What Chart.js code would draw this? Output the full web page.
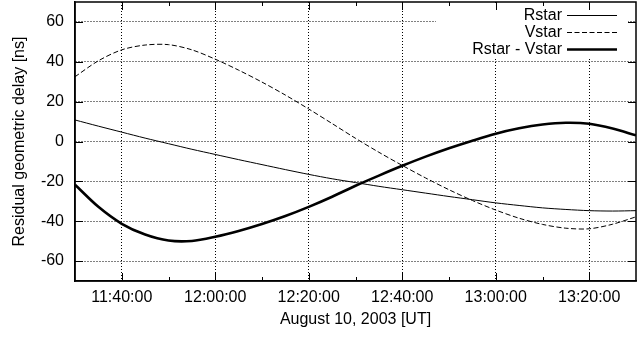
<!DOCTYPE html>
<html>
<head>
<meta charset="utf-8">
<script src="https://cdn.jsdelivr.net/npm/chart.js@4.4.1/dist/chart.umd.min.js"></script>
<style>
  html, body { margin: 0; padding: 0; background: #fff; }
  #wrap { width: 643px; height: 338px; }
</style>
</head>
<body>
<div id="wrap"><canvas id="delayChart" width="643" height="338"></canvas></div>
<script>
// minutes after midnight, 11:30 .. 13:30 UT
const minutes = [690, 695, 700, 705, 710, 715, 720, 725, 730, 735, 740, 745, 750,
                 755, 760, 765, 770, 775, 780, 785, 790, 795, 800, 805, 810];

const rstar = [10.8, 7.7, 4.7, 1.7, -1.1, -3.9, -6.5, -9.1, -11.6, -14.1, -16.5, -18.7, -20.6,
               -22.5, -24.2, -25.9, -27.6, -29.2, -30.8, -32.1, -33.3, -34.1, -34.7, -34.9, -34.7];

const vstar = [32.5, 40.5, 46.0, 48.4, 48.6, 46.0, 41.3, 35.8, 29.8, 23.3, 16.3, 9.0, 1.6,
               -5.4, -12.0, -18.3, -24.2, -29.6, -34.4, -38.5, -41.6, -43.5, -43.8, -41.5, -37.8];

const rstarMinusVstar = [-21.7, -32.8, -41.3, -46.7, -49.7, -49.9, -47.8, -44.9, -41.4, -37.4, -32.8, -27.7, -22.2,
                         -17.1, -12.2, -7.6, -3.4, 0.4, 3.9, 6.6, 8.5, 9.4, 8.9, 6.5, 3.1];

const seriesNames = ['Rstar', 'Vstar', 'Rstar - Vstar'];

const FONT = "'Liberation Sans', Arial, Helvetica, sans-serif";
Chart.defaults.font.family = FONT;
Chart.defaults.font.size = 16;
Chart.defaults.color = '#000';

function toPoints(values) {
    return values.map((v, i) => ({ x: minutes[i], y: v }));
}

function hhmmss(v) {
    const h = Math.floor(v / 60);
    const m = v % 60;
    return h + ':' + String(m).padStart(2, '0') + ':00';
}

const gridColor = (ctx) => (ctx.tick && ctx.tick.value % 20 === 0) ? '#000' : 'rgba(0,0,0,0)';

// no extra room for edge labels, the frame sits flush with the layout padding
function noEdgePadding(scale) {
    scale.paddingTop = 0;
    scale.paddingBottom = 0;
    scale.paddingLeft = 0;
    scale.paddingRight = 0;
}

// gnuplot-like frame: full border, inward tick marks on all four sides, opaque key
const framePlugin = {
    id: 'frame',
    beforeDatasetsDraw(chart) {
        const { ctx, chartArea } = chart;
        ctx.save();
        ctx.fillStyle = '#fff';
        ctx.fillRect(436, chartArea.top + 1, 628 - 436, 57 - chartArea.top);
        ctx.restore();
    },
    afterDatasetsDraw(chart) {
        const { ctx, chartArea, scales } = chart;
        const { left, right, top, bottom } = chartArea;
        ctx.save();
        ctx.strokeStyle = '#000';
        ctx.lineWidth = 1.5;
        ctx.strokeRect(left, top, right - left, bottom - top);

        ctx.lineWidth = 1;
        ctx.beginPath();
        scales.x.ticks.forEach(t => {
            if (t.value <= scales.x.min || t.value >= scales.x.max) return;
            const px = Math.round(scales.x.getPixelForValue(t.value)) + 0.5;
            const len = t.value % 20 === 0 ? 8 : 4;
            ctx.moveTo(px, bottom); ctx.lineTo(px, bottom - len);
            ctx.moveTo(px, top); ctx.lineTo(px, top + len);
        });
        scales.y.ticks.forEach(t => {
            if (t.value % 20 !== 0) return;
            const py = Math.round(scales.y.getPixelForValue(t.value)) + 0.5;
            ctx.moveTo(left, py); ctx.lineTo(left + 8, py);
            ctx.moveTo(right, py); ctx.lineTo(right - 8, py);
        });
        ctx.stroke();

        // key
        ctx.font = '16px ' + FONT;
        ctx.textAlign = 'right';
        ctx.textBaseline = 'middle';
        ctx.fillStyle = '#000';
        const rowsY = [15, 32, 49];
        chart.data.datasets.forEach((ds, i) => {
            const y = rowsY[i];
            ctx.fillText(ds.label, 562, y + 1);
            ctx.beginPath();
            ctx.lineWidth = ds.borderWidth;
            ctx.setLineDash(ds.borderDash || []);
            ctx.moveTo(567, y + 0.5);
            ctx.lineTo(617, y + 0.5);
            ctx.stroke();
        });
        ctx.restore();
    }
};

new Chart(document.getElementById('delayChart'), {
    type: 'line',
    data: {
        datasets: [
            {
                label: seriesNames[0],
                data: toPoints(rstar),
                borderColor: '#000',
                borderWidth: 1,
                pointRadius: 0,
                tension: 0.3
            },
            {
                label: seriesNames[1],
                data: toPoints(vstar),
                borderColor: '#000',
                borderWidth: 1,
                borderDash: [5, 2.5],
                pointRadius: 0,
                tension: 0.3
            },
            {
                label: seriesNames[2],
                data: toPoints(rstarMinusVstar),
                borderColor: '#000',
                borderWidth: 2.6,
                pointRadius: 0,
                tension: 0.3
            }
        ]
    },
    plugins: [framePlugin],
    options: {
        responsive: false,
        animation: false,
        events: [],
        layout: {
            padding: { top: 2, right: 7, left: 0, bottom: 0 }
        },
        plugins: {
            legend: { display: false },
            tooltip: { enabled: false }
        },
        scales: {
            x: {
                type: 'linear',
                min: 690,
                max: 810,
                afterFit(scale) { scale.height = 57; noEdgePadding(scale); },
                ticks: {
                    stepSize: 10,
                    autoSkip: false,
                    maxRotation: 0,
                    padding: 7,
                    callback: (v) => v % 20 === 0 ? hhmmss(v) : ''
                },
                grid: {
                    drawTicks: false,
                    color: gridColor,
                    lineWidth: 1
                },
                border: { display: true, color: '#000', width: 1.5, dash: [1, 2] },
                title: {
                    display: true,
                    text: 'August 10, 2003 [UT]',
                    padding: { top: 0, bottom: 9 }
                }
            },
            y: {
                min: -70,
                max: 70,
                afterFit(scale) { scale.width = 75; noEdgePadding(scale); },
                ticks: {
                    stepSize: 10,
                    autoSkip: false,
                    padding: 11,
                    callback: (v) => v % 20 === 0 ? String(v) : ''
                },
                grid: {
                    drawTicks: false,
                    color: gridColor,
                    lineWidth: 1
                },
                border: { display: true, color: '#000', width: 1.5, dash: [1, 2] },
                title: {
                    display: true,
                    text: 'Residual geometric delay [ns]',
                    padding: { top: 10, bottom: 0 }
                }
            }
        }
    }
});
</script>
</body>
</html>
